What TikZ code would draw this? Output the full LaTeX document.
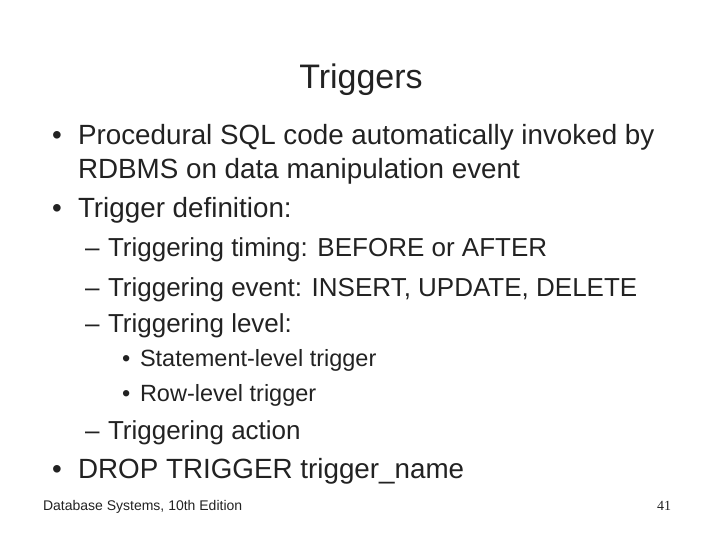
\documentclass[tikz,border=0pt]{standalone}
\usepackage{fontspec}
\setmainfont{Liberation Sans}
\newfontfamily\serifx{Liberation Serif}
\definecolor{txt}{HTML}{222222}
\begin{document}
\begin{tikzpicture}[x=1pt,y=-1pt,
  t/.style={anchor=base west,inner sep=0pt,outer sep=0pt,text=txt},
  l1/.style={t,font=\fontsize{27.8}{28}\selectfont},
  l2/.style={t,font=\fontsize{26}{26}\selectfont},
  l3/.style={t,font=\fontsize{23.5}{24}\selectfont}]
\useasboundingbox (0,0) rectangle (720,540);
\node[t,anchor=base,font=\fontsize{34}{34}\selectfont] (title) at (361,89) {Triggers};
\node[l1] (b1) at (52,145) {•};
\node[l1] (t1) at (78,145) {Procedural SQL code automatically invoked by};
\node[l1] (t1b) at (78,179) {RDBMS on data manipulation event};
\node[l1] (b2) at (52,218) {•};
\node[l1] (t2) at (78,218) {Trigger definition:};
\node[l2] (d1) at (85,256) {–};
\node[l2] (s1) at (108,256) {Triggering timing: BEFORE or AFTER};
\node[l2] (d2) at (85,296) {–};
\node[l2] (s2) at (108,296) {Triggering event: INSERT, UPDATE, DELETE};
\node[l2] (d3) at (85,332) {–};
\node[l2] (s3) at (108,332) {Triggering level:};
\node[l3] (e1) at (122,366) {•};
\node[l3] (u1) at (140,366) {Statement-level trigger};
\node[l3] (e2) at (122,401) {•};
\node[l3] (u2) at (140,401) {Row-level trigger};
\node[l2] (d4) at (85,439) {–};
\node[l2] (s4) at (108,439) {Triggering action};
\node[l1] (b3) at (52,478) {•};
\node[t,font=\fontsize{27.8}{28}\selectfont] (t3) at (78,478) {DROP TRIGGER trigger\_name};
\node[t,font=\fontsize{14}{14}\selectfont] (f1) at (43,510) {Database Systems, 10th Edition};
\node[t,anchor=base east,font=\serifx\fontsize{14}{14}\selectfont] (f2) at (671,510) {41};
\end{tikzpicture}
\end{document}
